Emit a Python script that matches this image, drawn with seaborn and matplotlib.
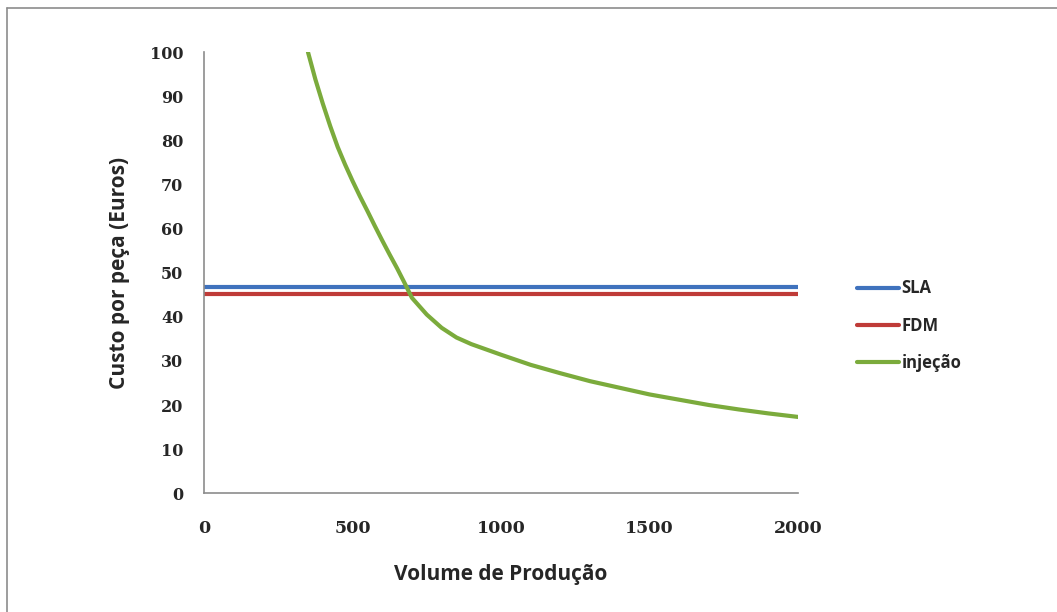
import pandas as pd
import seaborn as sns
from matplotlib import pyplot as plt
from matplotlib.lines import Line2D

# production volume (x) and cost per part (y)
volume_inj = [350, 375, 400, 425, 450, 475, 500, 525, 550, 575, 600, 625, 650, 675,
              700, 750, 800, 850, 900, 950, 1000, 1100, 1200, 1300, 1400, 1500,
              1600, 1700, 1800, 1900, 2000]
custo_inj = [100, 93.8, 88.3, 83.2, 78.5, 74.5, 70.8, 67.3, 64.0, 60.6, 57.3, 54.1,
             51.0, 47.7, 44.3, 40.5, 37.5, 35.3, 33.8, 32.6, 31.4, 29.1, 27.2,
             25.4, 23.9, 22.4, 21.2, 20.0, 19.0, 18.1, 17.3]
volume_flat = [0, 2000]
custo_sla = [46.7, 46.7]
custo_fdm = [45.2, 45.2]

processos = ["SLA", "FDM", "injeção"]
cores = {"SLA": "#3f72bd", "FDM": "#bf3b38", "injeção": "#7bab3c"}

df = pd.concat([
    pd.DataFrame({"volume": volume_flat, "custo": custo_sla, "processo": "SLA"}),
    pd.DataFrame({"volume": volume_flat, "custo": custo_fdm, "processo": "FDM"}),
    pd.DataFrame({"volume": volume_inj, "custo": custo_inj, "processo": "injeção"}),
], ignore_index=True)

sns.set_style("white")
plt.rcParams["font.family"] = ["Open Sans", "DejaVu Sans"]

fig = plt.figure(figsize=(10.57, 6.12), dpi=100)
ax = fig.add_axes([0.193, 0.194, 0.562, 0.721])

sns.lineplot(data=df, x="volume", y="custo", hue="processo", hue_order=processos,
             palette=cores, linewidth=3, sort=False, estimator=None, ax=ax, legend=False)
for ln in ax.get_lines():
    ln.set_solid_joinstyle("round")
    ln.set_solid_capstyle("round")

ax.set_xlim(0, 2000)
ax.set_ylim(0, 100)
ax.set_xticks(range(0, 2001, 500))
ax.set_yticks(range(0, 101, 10))
ax.margins(0)

for side in ["top", "right"]:
    ax.spines[side].set_visible(False)
for side in ["left", "bottom"]:
    ax.spines[side].set_color("#8c8c8c")
    ax.spines[side].set_linewidth(1.2)

ax.tick_params(axis="both", direction="out", length=6, width=1.2, color="#8c8c8c", pad=9)
for lbl in ax.get_yticklabels():
    lbl.set_fontfamily("DejaVu Serif")
    lbl.set_fontweight("bold")
    lbl.set_fontsize(11.5)
for lbl in ax.get_xticklabels():
    lbl.set_fontfamily("DejaVu Serif")
    lbl.set_fontweight("bold")
    lbl.set_fontsize(12.5)
ax.tick_params(axis="x", pad=13)

ax.set_xlabel("Volume de Produção", fontsize=15, fontweight="bold", labelpad=20)
ax.set_ylabel("Custo por peça (Euros)", fontsize=15, fontweight="bold", labelpad=14)

handles = [Line2D([0], [0], color=cores[p], lw=3) for p in processos]
fig.legend(handles, processos, loc="center left", bbox_to_anchor=(0.797, 0.468),
           frameon=False, handlelength=2.5, handletextpad=0.15,
           labelspacing=1.15, prop={"family": "Open Sans", "weight": "bold", "size": 12})

# partial frame around the chart (left and top edges only, as in the source)
fig.add_artist(Line2D([0.0066, 0.0066], [0.0, 0.987], transform=fig.transFigure,
                      color="#8c8c8c", lw=1.2))
fig.add_artist(Line2D([0.0066, 1.0], [0.987, 0.987], transform=fig.transFigure,
                      color="#8c8c8c", lw=1.2))

fig.savefig("out.png", dpi=100, facecolor="white")
plt.close(fig)
